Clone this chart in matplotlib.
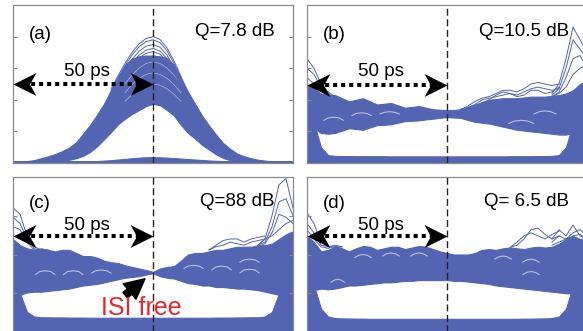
import numpy as np
import matplotlib
matplotlib.use('Agg')
import matplotlib.pyplot as plt
from matplotlib.path import Path
from matplotlib.patches import FancyArrowPatch

plt.rcParams['font.family'] = ['Liberation Sans', 'DejaVu Sans']

BLUE = '#5264b2'
GREY = '#8a8a8a'

# common time grid (ps)
t_ps = [0, 2.5, 5, 7.5, 10, 12.5, 15, 17.5, 20, 22.5, 25, 27.5, 30, 32.5, 35, 37.5,
        40, 42.5, 45, 47.5, 50, 52.5, 55, 57.5, 60, 62.5, 65, 67.5, 70, 72.5, 75,
        77.5, 80, 82.5, 85, 87.5, 90, 92.5, 95, 97.5, 100]

panel_labels = ['(a)', '(b)', '(c)', '(d)']
q_labels = ['Q=7.8 dB', 'Q=10.5 dB', 'Q=88 dB', 'Q= 6.5 dB']

# ---------- panel (a): pulse eye ----------
a_top = [0.005, 0.008, 0.012, 0.018, 0.03, 0.042, 0.056, 0.075, 0.097, 0.13, 0.185,
         0.24, 0.305, 0.375, 0.46, 0.545, 0.62, 0.66, 0.675, 0.68, 0.68, 0.675, 0.665,
         0.62, 0.535, 0.45, 0.375, 0.30, 0.238, 0.18, 0.127, 0.09, 0.06, 0.043, 0.03,
         0.021, 0.015, 0.01, 0.007, 0.005, 0.004]
a_bot = [0, 0, 0, 0, 0, 0, 0.005, 0.012, 0.02, 0.03, 0.045, 0.07, 0.105, 0.15, 0.195,
         0.245, 0.28, 0.31, 0.335, 0.36, 0.375, 0.365, 0.335, 0.30, 0.24, 0.19, 0.155,
         0.115, 0.085, 0.055, 0.032, 0.018, 0.008, 0, 0, 0, 0, 0, 0, 0, 0]
a_floor = [0.012, 0.012, 0.012, 0.012, 0.012, 0.012, 0.012, 0.012, 0.012, 0.012, 0.012,
           0.012, 0.012, 0.015, 0.018, 0.022, 0.026, 0.03, 0.034, 0.036, 0.037, 0.036,
           0.034, 0.031, 0.028, 0.025, 0.022, 0.019, 0.016, 0.014, 0.012, 0.012, 0.012,
           0.012, 0.012, 0.012, 0.012, 0.012, 0.012, 0.012, 0.012]
t_a_peak = [35, 37.5, 40, 42.5, 45, 47.5, 50, 52.5, 55, 57.5, 60, 62.5, 65]
a_peak_lines = [
    [0.469, 0.552, 0.63, 0.70, 0.754, 0.788, 0.80, 0.782, 0.728, 0.646, 0.548, 0.443, 0.342],
    [0.457, 0.538, 0.615, 0.683, 0.735, 0.768, 0.78, 0.762, 0.71, 0.63, 0.534, 0.432, 0.333],
    [0.44, 0.518, 0.591, 0.656, 0.707, 0.739, 0.75, 0.733, 0.683, 0.606, 0.514, 0.416, 0.32],
    [0.425, 0.50, 0.571, 0.634, 0.683, 0.714, 0.725, 0.708, 0.66, 0.586, 0.497, 0.402, 0.31],
    [0.413, 0.486, 0.556, 0.617, 0.664, 0.694, 0.705, 0.689, 0.642, 0.57, 0.483, 0.391, 0.301],
]
t_a_gap = [40, 42.5, 45, 47.5, 50, 52.5, 55, 57.5, 60]
a_gap_lines = [
    [0.50, 0.557, 0.60, 0.63, 0.64, 0.63, 0.60, 0.557, 0.50],
    [0.445, 0.496, 0.536, 0.561, 0.57, 0.561, 0.536, 0.496, 0.445],
    [0.39, 0.435, 0.47, 0.492, 0.50, 0.492, 0.47, 0.435, 0.39],
]

# ---------- panel (b) ----------
b_hi = [0.50, 0.47, 0.44, 0.43, 0.43, 0.41, 0.39, 0.40, 0.41, 0.39,
        0.37, 0.375, 0.38, 0.365, 0.35, 0.355, 0.36, 0.35, 0.34, 0.337,
        0.335, 0.336, 0.34, 0.355, 0.37, 0.385, 0.40, 0.405, 0.41, 0.41,
        0.41, 0.415, 0.42, 0.42, 0.42, 0.425, 0.43, 0.44, 0.46, 0.50, 0.52]
b_lo = [0.25, 0.22, 0.19, 0.185, 0.19, 0.205, 0.22, 0.215, 0.21, 0.225,
        0.24, 0.242, 0.245, 0.255, 0.265, 0.267, 0.27, 0.276, 0.28, 0.287,
        0.29, 0.288, 0.285, 0.272, 0.26, 0.255, 0.25, 0.24, 0.23, 0.22,
        0.21, 0.205, 0.20, 0.195, 0.19, 0.185, 0.18, 0.18, 0.19, 0.22, 0.25]
b_floor = [0.30, 0.25, 0.10, 0.05, 0.045, 0.044, 0.044, 0.043, 0.043, 0.043,
           0.043, 0.043, 0.042, 0.042, 0.042, 0.042, 0.042, 0.042, 0.042, 0.042,
           0.042, 0.042, 0.042, 0.042, 0.042, 0.042, 0.042, 0.042, 0.042, 0.043,
           0.043, 0.043, 0.043, 0.044, 0.044, 0.045, 0.05, 0.10, 0.25, 0.30, 0.30]
t_b_bump = [55, 57.5, 60, 62.5, 65, 67.5, 70, 72.5, 75, 77.5, 80, 82.5, 85, 87.5, 90]
b_bump_lines = [
    [0.34, 0.36, 0.39, 0.41, 0.42, 0.44, 0.46, 0.46, 0.45, 0.47, 0.50, 0.51, 0.50, 0.49, 0.50],
    [0.34, 0.35, 0.37, 0.40, 0.41, 0.42, 0.43, 0.44, 0.43, 0.45, 0.47, 0.48, 0.47, 0.46, 0.47],
    [0.34, 0.35, 0.36, 0.38, 0.40, 0.43, 0.45, 0.44, 0.42, 0.43, 0.46, 0.46, 0.44, 0.45, 0.48],
]
b_gaps = [([6, 7.5, 9.5, 11.5, 13], [0.27, 0.285, 0.29, 0.285, 0.27]),
          ([16, 17.5, 19.5, 21.5, 23], [0.30, 0.313, 0.318, 0.313, 0.30]),
          ([26, 27.5, 29.5, 31.5, 33], [0.31, 0.32, 0.325, 0.32, 0.31]),
          ([72, 74, 76.5, 79, 81], [0.25, 0.265, 0.27, 0.265, 0.25]),
          ([81, 83, 85, 87, 89], [0.31, 0.325, 0.33, 0.325, 0.31])]

# ---------- panel (c) ----------
c_hi = [0.60, 0.56, 0.54, 0.53, 0.54, 0.53, 0.52, 0.53, 0.53, 0.51,
        0.49, 0.49, 0.48, 0.46, 0.45, 0.445, 0.43, 0.42, 0.41, 0.40,
        0.388, 0.41, 0.42, 0.425, 0.46, 0.50, 0.51, 0.51, 0.52, 0.53,
        0.53, 0.54, 0.55, 0.55, 0.55, 0.56, 0.56, 0.57, 0.60, 0.63, 0.65]
c_lo = [0.22, 0.24, 0.255, 0.26, 0.26, 0.265, 0.27, 0.275, 0.28, 0.29,
        0.30, 0.305, 0.31, 0.32, 0.33, 0.34, 0.35, 0.355, 0.36, 0.37,
        0.38, 0.36, 0.35, 0.345, 0.33, 0.315, 0.31, 0.30, 0.30, 0.29,
        0.29, 0.285, 0.28, 0.28, 0.275, 0.27, 0.26, 0.25, 0.24, 0.22, 0.20]
c_floor = [0.35, 0.25, 0.13, 0.10, 0.095, 0.095, 0.094, 0.094, 0.093, 0.093,
           0.093, 0.092, 0.092, 0.092, 0.092, 0.092, 0.092, 0.092, 0.092, 0.092,
           0.092, 0.092, 0.092, 0.092, 0.092, 0.092, 0.092, 0.092, 0.092, 0.093,
           0.093, 0.093, 0.094, 0.094, 0.095, 0.095, 0.10, 0.13, 0.25, 0.40, 0.40]
t_c_bump = [70, 72.5, 75, 77.5, 80, 82.5, 85, 87.5, 90]
c_bump_lines = [
    [0.53, 0.56, 0.59, 0.60, 0.60, 0.58, 0.60, 0.61, 0.62],
    [0.53, 0.55, 0.56, 0.58, 0.57, 0.56, 0.58, 0.59, 0.60],
]
c_gaps = [([8, 9.5, 11.5, 13.5, 15], [0.37, 0.39, 0.395, 0.39, 0.37]),
          ([18, 19.5, 21.5, 23.5, 25], [0.37, 0.39, 0.395, 0.39, 0.37]),
          ([28, 29.5, 31.5, 33.5, 35], [0.38, 0.395, 0.40, 0.395, 0.38]),
          ([61, 62.5, 64.5, 66.5, 68], [0.41, 0.425, 0.43, 0.425, 0.41]),
          ([71, 72.5, 74.5, 76.5, 78], [0.40, 0.42, 0.425, 0.42, 0.40]),
          ([81, 82.5, 84.5, 86.5, 88], [0.38, 0.40, 0.405, 0.40, 0.38]),
          ([81, 82.5, 84.5, 86.5, 88], [0.45, 0.465, 0.47, 0.465, 0.45])]

# ---------- panel (d) ----------
d_hi = [0.62, 0.58, 0.52, 0.53, 0.55, 0.54, 0.52, 0.54, 0.555, 0.55,
        0.53, 0.54, 0.55, 0.55, 0.535, 0.545, 0.555, 0.55, 0.535, 0.52,
        0.51, 0.50, 0.50, 0.50, 0.51, 0.53, 0.535, 0.53, 0.54, 0.545,
        0.54, 0.535, 0.545, 0.55, 0.545, 0.55, 0.57, 0.60, 0.62, 0.60, 0.60]
d_lo = [0.25, 0.27, 0.28, 0.275, 0.28, 0.29, 0.30, 0.30, 0.305, 0.31,
        0.315, 0.32, 0.32, 0.325, 0.33, 0.33, 0.335, 0.335, 0.335, 0.335,
        0.335, 0.33, 0.33, 0.325, 0.32, 0.315, 0.31, 0.30, 0.295, 0.29,
        0.285, 0.28, 0.275, 0.27, 0.265, 0.26, 0.255, 0.25, 0.25, 0.24, 0.22]
d_floor = [0.40, 0.30, 0.15, 0.10, 0.09, 0.088, 0.087, 0.086, 0.086, 0.085,
           0.085, 0.085, 0.085, 0.085, 0.085, 0.085, 0.085, 0.085, 0.085, 0.085,
           0.085, 0.085, 0.085, 0.085, 0.085, 0.085, 0.085, 0.085, 0.085, 0.085,
           0.085, 0.086, 0.086, 0.087, 0.088, 0.09, 0.10, 0.15, 0.30, 0.40, 0.40]
t_d_bump = [72.5, 75, 77.5, 80, 82.5, 85, 87.5, 90]
d_bump_lines = [
    [0.545, 0.58, 0.62, 0.64, 0.62, 0.60, 0.63, 0.65],
    [0.545, 0.56, 0.60, 0.66, 0.67, 0.63, 0.60, 0.62],
]
d_gaps = [([8.5, 9.8, 11, 12.2, 13.5], [0.32, 0.335, 0.34, 0.335, 0.32]),
          ([17, 18.5, 20, 21.5, 23], [0.48, 0.495, 0.50, 0.495, 0.48]),
          ([27, 28.5, 30, 31.5, 33], [0.49, 0.505, 0.51, 0.505, 0.49]),
          ([37, 38.5, 40, 41.5, 43], [0.49, 0.505, 0.51, 0.505, 0.49]),
          ([67, 68.5, 70, 71.5, 73], [0.47, 0.485, 0.49, 0.485, 0.47]),
          ([77, 78.5, 80, 81.5, 83], [0.45, 0.465, 0.47, 0.465, 0.45]),
          ([77, 78.5, 80, 81.5, 83], [0.37, 0.385, 0.39, 0.385, 0.37])]

# edge spikes (transitions at the bit boundaries)
t_left = [0, 2.5, 5, 7.5, 10, 12.5]
t_right = [87.5, 90, 92.5, 95, 97.5, 100]
b_left = [[0.66, 0.60, 0.50, 0.45, 0.42, 0.40],
          [0.60, 0.56, 0.48, 0.44, 0.41, 0.39],
          [0.54, 0.50, 0.46, 0.42, 0.40, 0.38]]
b_right = [[0.44, 0.50, 0.66, 0.86, 0.78, 0.70],
           [0.43, 0.47, 0.60, 0.78, 0.72, 0.66],
           [0.42, 0.45, 0.54, 0.66, 0.68, 0.60],
           [0.42, 0.44, 0.48, 0.56, 0.60, 0.62]]
c_left = [[0.80, 0.76, 0.62, 0.54, 0.52, 0.52],
          [0.74, 0.70, 0.60, 0.55, 0.53, 0.53],
          [0.68, 0.66, 0.58, 0.53, 0.52, 0.51]]
c_right = [[0.56, 0.60, 0.75, 0.95, 0.99, 0.80],
           [0.56, 0.58, 0.68, 0.84, 0.86, 0.75],
           [0.55, 0.57, 0.64, 0.76, 0.74, 0.70],
           [0.56, 0.60, 0.62, 0.66, 0.70, 0.72]]
d_left = [[0.77, 0.70, 0.58, 0.55, 0.55, 0.55],
          [0.70, 0.64, 0.56, 0.55, 0.56, 0.55],
          [0.66, 0.60, 0.55, 0.54, 0.55, 0.54]]
d_right = [[0.60, 0.66, 0.62, 0.69, 0.62, 0.60],
           [0.58, 0.62, 0.60, 0.64, 0.66, 0.62],
           [0.56, 0.58, 0.60, 0.62, 0.63, 0.60]]


fig = plt.figure(figsize=(5.83, 3.31), dpi=100)
W, H = 583.0, 331.0
ax_a = fig.add_axes([13 / W, 1 - 163 / H, 280 / W, 158 / H])
ax_b = fig.add_axes([307 / W, 1 - 163 / H, 280 / W, 158 / H])
ax_c = fig.add_axes([13 / W, 1 - 332 / H, 280 / W, 155 / H])
ax_d = fig.add_axes([307 / W, 1 - 332 / H, 280 / W, 155 / H])

head_left = Path([(0, 0), (1, 0.5), (0.72, 0), (1, -0.5), (0, 0)],
                 [Path.MOVETO, Path.LINETO, Path.LINETO, Path.LINETO, Path.CLOSEPOLY])
head_right = Path([(0, 0), (-1, 0.5), (-0.72, 0), (-1, -0.5), (0, 0)],
                  [Path.MOVETO, Path.LINETO, Path.LINETO, Path.LINETO, Path.CLOSEPOLY])


def style(ax, yticks):
    ax.set_xlim(0, 100)
    ax.set_ylim(0, 1)
    ax.set_xticks([])
    ax.set_yticks(yticks)
    ax.tick_params(axis='y', direction='in', left=True, right=True,
                   labelleft=False, length=3, width=0.8, color=GREY)
    for s in ax.spines.values():
        s.set_color(GREY)
        s.set_linewidth(0.9)


def band(ax, lo, hi):
    ax.fill_between(t_ps, lo, hi, color=BLUE, lw=0.8, zorder=1)


def lines(ax, tt, rows, lw=0.7):
    for r in rows:
        ax.plot(tt, r, color=BLUE, lw=lw, zorder=1.5)


def gaps(ax, tt, rows):
    for r in rows:
        ax.plot(tt, r, color='white', lw=0.5, alpha=0.55, zorder=1.2)


def gap_arcs(ax, segs):
    for tt, yy in segs:
        ax.plot(tt, yy, color='white', lw=0.8, alpha=0.6, zorder=1.2,
                solid_capstyle='round')


def annot(ax, label, q, y_lab, y_arrow, y_50):
    ax.axvline(50, color='#222222', lw=1.0, ls=(0, (5, 2.6)), zorder=3)
    ax.plot([3.5, 46.5], [y_arrow, y_arrow], color='black', lw=2.9,
            ls=(0, (1, 1)), dash_capstyle='butt', zorder=4)
    ax.plot([0], [y_arrow], marker=head_left, ms=33, color='black', mew=0, zorder=5,
            clip_on=False)
    ax.plot([50], [y_arrow], marker=head_right, ms=33, color='black', mew=0, zorder=5,
            clip_on=False)
    ax.text(26.3, y_50, '50 ps', ha='center', va='center', fontsize=13.5, zorder=6)
    ax.text(5.6, y_lab, label, ha='left', va='center', fontsize=13.5, zorder=6)
    ax.text(93.5, y_lab + 0.015, q, ha='right', va='center', fontsize=13.5, zorder=6)


zeros = [0] * len(t_ps)

# (a)
style(ax_a, [0.2, 0.4, 0.6, 0.8])
band(ax_a, a_bot, a_top)
band(ax_a, zeros, a_floor)
lines(ax_a, t_a_peak, a_peak_lines)
gaps(ax_a, t_a_gap, a_gap_lines)
annot(ax_a, panel_labels[0], q_labels[0], 0.815, 0.50, 0.58)

# (b)
style(ax_b, [0.2, 0.4, 0.6, 0.8])
band(ax_b, b_lo, b_hi)
band(ax_b, zeros, b_floor)
lines(ax_b, t_b_bump, b_bump_lines)
lines(ax_b, t_left, b_left)
lines(ax_b, t_right, b_right)
gap_arcs(ax_b, b_gaps)
annot(ax_b, panel_labels[1], q_labels[1], 0.815, 0.494, 0.58)

# (c)
style(ax_c, [0.25, 0.5, 0.75])
band(ax_c, c_lo, c_hi)
band(ax_c, zeros, c_floor)
lines(ax_c, t_c_bump, c_bump_lines)
lines(ax_c, t_left, c_left)
lines(ax_c, t_right, c_right)
gap_arcs(ax_c, c_gaps)
annot(ax_c, panel_labels[2], q_labels[2], 0.83, 0.619, 0.684)
arr = FancyArrowPatch((39.3, 0.226), (47.9, 0.355),
                      arrowstyle='simple,head_length=0.9,head_width=0.9,tail_width=0.32',
                      mutation_scale=16, color='black', zorder=6)
ax_c.add_patch(arr)
ax_c.text(45.7, 0.155, 'ISI free', color='#e8262b', fontsize=18,
          ha='center', va='center', zorder=6)

# (d)
style(ax_d, [0.25, 0.5, 0.75])
band(ax_d, d_lo, d_hi)
band(ax_d, zeros, d_floor)
lines(ax_d, t_d_bump, d_bump_lines)
lines(ax_d, t_left, d_left)
lines(ax_d, t_right, d_right)
gap_arcs(ax_d, d_gaps)
annot(ax_d, panel_labels[3], q_labels[3], 0.83, 0.619, 0.684)

fig.savefig('out.png', dpi=100)
